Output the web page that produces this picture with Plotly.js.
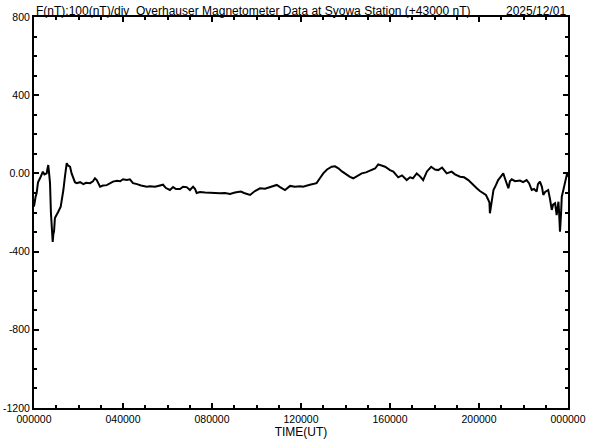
<!DOCTYPE html>
<html>
<head>
<meta charset="utf-8">
<script src="https://cdn.plot.ly/plotly-3.0.1.min.js"></script>
<style>html,body{margin:0;padding:0;background:#fff;}#chart{width:592px;height:440px;}</style>
</head>
<body>
<div id="chart"></div>
<script>
// Time in hours UT, F deviation in nT (relative to 43000 nT)
const timeHours = [0.00,0.02,0.07,0.12,0.18,0.27,0.35,0.40,0.47,0.57,0.60,0.64,0.67,0.72,0.76,0.80,0.84,0.87,0.90,0.94,1.01,1.09,1.20,1.26,1.32,1.39,1.44,1.47,1.53,1.62,1.69,1.77,1.84,1.92,2.07,2.22,2.34,2.52,2.65,2.74,2.82,2.97,3.10,3.27,3.42,3.55,3.73,3.87,4.00,4.17,4.31,4.45,4.63,4.81,5.07,5.21,5.44,5.66,5.80,5.93,6.11,6.25,6.38,6.56,6.70,6.86,7.01,7.15,7.24,7.31,7.46,7.69,7.91,8.04,8.36,8.58,8.81,9.03,9.30,9.44,9.71,9.93,10.16,10.38,10.61,10.91,11.06,11.28,11.51,11.73,11.96,12.09,12.40,12.70,12.85,13.00,13.17,13.38,13.53,13.68,13.84,14.05,14.20,14.35,14.52,14.73,14.92,15.18,15.33,15.47,15.64,15.78,16.00,16.15,16.37,16.54,16.75,16.90,17.03,17.20,17.35,17.49,17.66,17.85,18.02,18.17,18.34,18.55,18.77,18.92,19.15,19.33,19.52,19.69,19.90,20.04,20.19,20.31,20.42,20.47,20.49,20.54,20.65,20.76,20.86,20.99,21.09,21.21,21.32,21.39,21.47,21.62,21.84,21.98,22.14,22.25,22.37,22.47,22.59,22.65,22.74,22.83,22.89,22.97,23.11,23.19,23.27,23.33,23.42,23.49,23.53,23.57,23.60,23.64,23.69,23.72,23.78,23.87,23.91,23.96,24.00];
const fValues = [-170,-150,-120,-100,-45,-25,-8,9,-5,0,20,43,10,-50,-200,-290,-350,-310,-298,-228,-215,-196,-170,-130,-85,-17,30,52,40,34,0,-25,-45,-50,-45,-55,-48,-50,-40,-25,-34,-68,-62,-60,-50,-42,-38,-40,-30,-34,-30,-50,-55,-62,-68,-66,-68,-60,-58,-75,-85,-70,-80,-80,-68,-70,-85,-68,-80,-100,-95,-98,-100,-99,-102,-100,-105,-98,-93,-100,-110,-90,-76,-78,-70,-59,-70,-85,-64,-68,-66,-68,-58,-50,-25,0,20,34,36,26,10,-8,-18,-25,-12,0,5,17,25,46,40,34,17,9,-20,-10,-34,-20,-25,0,-15,-34,10,34,20,17,30,0,9,-5,-17,-20,-34,-55,-76,-90,-102,-110,-136,-150,-204,-160,-85,-60,-34,-15,0,-40,-76,-40,-30,-40,-37,-45,-34,-50,-85,-80,-93,-55,-42,-70,-110,-95,-85,-130,-187,-160,-153,-213,-170,-145,-200,-298,-200,-119,-90,-50,-20,0,-17];

const xTickVals = [0,4,8,12,16,20,24];
const xTickText = ["000000","040000","080000","120000","160000","200000","000000"];
const yTickVals = [800,400,0,-400,-800,-1200];
const yTickText = ["800","400","0.00","-400","-800","-1200"];

const titleText = "F(nT):100(nT)/div  Overhauser Magnetometer Data at Syowa Station (+43000 nT)";
const dateText = "2025/12/01";
const xTitle = "TIME(UT)";

const FONT = "Liberation Sans, Arial, sans-serif";

const trace = {
  x: timeHours, y: fValues, type: 'scatter', mode: 'lines',
  line: {color: '#000', width: 2}, hoverinfo: 'skip'
};

const layout = {
  width: 592, height: 440,
  margin: {l: 34, r: 24, t: 17, b: 32, pad: 0},
  paper_bgcolor: '#fff', plot_bgcolor: '#fff',
  showlegend: false,
  font: {family: FONT, color: '#000', size: 11},
  xaxis: {
    range: [0, 24], tickvals: xTickVals, ticktext: xTickText,
    ticks: 'inside', ticklen: 5, tickwidth: 2, tickcolor: '#000',
    minor: {dtick: 1, ticks: 'inside', ticklen: 3, tickwidth: 2, tickcolor: '#000', showgrid: false},
    showline: true, linecolor: '#000', linewidth: 2, mirror: 'ticks',
    showgrid: false, zeroline: false,
    tickfont: {family: FONT, size: 10.5, color: '#000'},
    title: {text: xTitle, font: {family: FONT, size: 12, color: '#000'}, standoff: 0}
  },
  yaxis: {
    range: [-1200, 800], tickvals: yTickVals, ticktext: yTickText,
    ticks: 'inside', ticklen: 5, tickwidth: 2, tickcolor: '#000',
    minor: {dtick: 100, tick0: 0, ticks: 'inside', ticklen: 3, tickwidth: 2, tickcolor: '#000', showgrid: false},
    showline: true, linecolor: '#000', linewidth: 2, mirror: 'ticks',
    showgrid: false, zeroline: false,
    tickfont: {family: FONT, size: 10.5, color: '#000'}
  },
  annotations: [
    {text: titleText, xref: 'paper', yref: 'paper', x: 0, y: 1, xanchor: 'left', yanchor: 'bottom',
     showarrow: false, font: {family: FONT, size: 12, color: '#000'}, yshift: -3},
    {text: dateText, xref: 'paper', yref: 'paper', x: 1, y: 1, xanchor: 'right', yanchor: 'bottom',
     showarrow: false, font: {family: FONT, size: 12, color: '#000'}, yshift: -3}
  ]
};

Plotly.newPlot('chart', [trace], layout, {staticPlot: true, displayModeBar: false});
</script>
</body>
</html>
